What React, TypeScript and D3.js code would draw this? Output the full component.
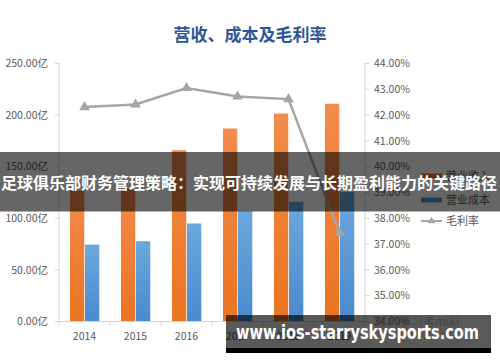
import React, { useEffect, useRef } from 'react';
import * as d3 from 'd3';

const years = ['2014', '2015', '2016', '2017', '2018', '2019'];
const revenue = [127, 129, 166, 187, 201.5, 211];
const cost = [74.5, 77.8, 95, 107, 116, 125.5];
const grossMargin = [42.31, 42.41, 43.05, 42.72, 42.62, 37.45];
const leftTicks = [0, 50, 100, 150, 200, 250];
const rightTicks = [34, 35, 36, 37, 38, 39, 40, 41, 42, 43, 44];
const seriesNames = ['营业收入', '营业成本', '毛利率'];

const W = 500;
const H = 362;

const App: React.FC = () => {
  const svgRef = useRef<SVGSVGElement>(null);

  useEffect(() => {
    document.body.style.margin = '0';
    const svg = d3.select(svgRef.current);
    svg.selectAll('*').remove();

    const left = 59, right = 365, top = 63.5, bottom = 321.5;
    const font = "'Noto Sans CJK SC', 'Noto Sans', sans-serif";
    const axisColor = '#d4d4d4';
    const textColor = '#595959';

    const defs = svg.append('defs');
    const grad = (id: string, c1: string, c2: string) => {
      const g = defs.append('linearGradient').attr('id', id)
        .attr('x1', 0).attr('y1', 0).attr('x2', 0).attr('y2', 1);
      g.append('stop').attr('offset', '0%').attr('stop-color', c1);
      g.append('stop').attr('offset', '100%').attr('stop-color', c2);
    };
    grad('gOrange', '#f28b4c', '#ea7420');
    grad('gBlue', '#6ca8de', '#4a8acd');

    const x0 = d3.scaleBand().domain(years).range([left, right]);
    const bw = x0.bandwidth();
    const x1 = d3.scaleBand().domain(['rev', 'cost'])
      .range([bw * 0.215, bw * 0.79]).paddingInner(0.05);
    const yL = d3.scaleLinear().domain([0, 250]).range([bottom, top]);
    const yR = d3.scaleLinear().domain([34, 44]).range([bottom, top]);

    // title
    svg.append('text')
      .attr('x', 250).attr('y', 41)
      .attr('text-anchor', 'middle')
      .attr('font-family', font).attr('font-weight', 'bold')
      .attr('font-size', 17).attr('fill', '#2f5597')
      .text('营收、成本及毛利率');

    // axes lines
    svg.append('line').attr('x1', left).attr('x2', left).attr('y1', top).attr('y2', bottom)
      .attr('stroke', axisColor);
    svg.append('line').attr('x1', right).attr('x2', right).attr('y1', top).attr('y2', bottom)
      .attr('stroke', axisColor);

    leftTicks.forEach(t => {
      svg.append('line').attr('x1', left - 4).attr('x2', left)
        .attr('y1', yL(t)).attr('y2', yL(t)).attr('stroke', axisColor);
      svg.append('text').attr('x', 48).attr('y', yL(t))
        .attr('dy', '0.35em').attr('text-anchor', 'end')
        .attr('font-family', font).attr('font-size', 10.5).attr('fill', textColor)
        .text(d3.format('.2f')(t) + '亿');
    });
    rightTicks.forEach(t => {
      svg.append('line').attr('x1', right).attr('x2', right + 4)
        .attr('y1', yR(t)).attr('y2', yR(t)).attr('stroke', axisColor);
      svg.append('text').attr('x', 374).attr('y', yR(t))
        .attr('dy', '0.35em').attr('text-anchor', 'start')
        .attr('font-family', font).attr('font-size', 10.5).attr('fill', textColor)
        .text(d3.format('.2f')(t) + '%');
    });

    // bars
    years.forEach((yr, i) => {
      const bx = x0(yr)!;
      svg.append('rect')
        .attr('x', bx + x1('rev')!).attr('width', x1.bandwidth())
        .attr('y', yL(revenue[i])).attr('height', bottom - yL(revenue[i]))
        .attr('fill', 'url(#gOrange)');
      svg.append('rect')
        .attr('x', bx + x1('cost')!).attr('width', x1.bandwidth())
        .attr('y', yL(cost[i])).attr('height', bottom - yL(cost[i]))
        .attr('fill', 'url(#gBlue)');
    });

    // x axis
    svg.append('line').attr('x1', left).attr('x2', right).attr('y1', bottom).attr('y2', bottom)
      .attr('stroke', axisColor);
    [...years.map(y => x0(y)!), right].forEach(px => {
      svg.append('line').attr('x1', px).attr('x2', px).attr('y1', bottom).attr('y2', bottom + 4)
        .attr('stroke', axisColor);
    });
    years.forEach(yr => {
      svg.append('text').attr('x', x0(yr)! + bw / 2).attr('y', 340)
        .attr('text-anchor', 'middle')
        .attr('font-family', font).attr('font-size', 10.5).attr('fill', textColor)
        .text(yr);
    });

    // margin line
    const line = d3.line<number>()
      .x((_, i) => x0(years[i])! + bw / 2)
      .y(d => yR(d));
    svg.append('path').datum(grossMargin).attr('d', line)
      .attr('fill', 'none').attr('stroke', '#a5a5a5').attr('stroke-width', 2.5);
    const tri = d3.symbol().type(d3.symbolTriangle).size(48);
    grossMargin.forEach((v, i) => {
      svg.append('path').attr('d', tri)
        .attr('transform', `translate(${x0(years[i])! + bw / 2},${yR(v)})`)
        .attr('fill', '#a5a5a5');
    });

    // legend
    const lg = [
      { name: seriesNames[0], color: '#ed7d31', y: 176, type: 'bar' },
      { name: seriesNames[1], color: '#5b9bd5', y: 200, type: 'bar' },
      { name: seriesNames[2], color: '#a5a5a5', y: 221, type: 'line' },
    ];
    lg.forEach(d => {
      if (d.type === 'bar') {
        svg.append('rect').attr('x', 421).attr('y', d.y - 2.5).attr('width', 21).attr('height', 5)
          .attr('fill', d.color);
      } else {
        svg.append('line').attr('x1', 421).attr('x2', 442).attr('y1', d.y).attr('y2', d.y)
          .attr('stroke', d.color).attr('stroke-width', 2);
        svg.append('path').attr('d', d3.symbol().type(d3.symbolTriangle).size(24))
          .attr('transform', `translate(431.5,${d.y})`).attr('fill', d.color);
      }
      svg.append('text').attr('x', 446).attr('y', d.y).attr('dy', '0.35em')
        .attr('font-family', font).attr('font-size', 11).attr('fill', textColor)
        .text(d.name);
    });

    // faint watermark
    svg.append('text').attr('x', 375).attr('y', 326)
      .attr('font-family', font).attr('font-size', 12).attr('fill', '#c8c8c8')
      .text('财务学习者miki');

    // banner overlay
    svg.append('rect').attr('x', 0).attr('y', 152).attr('width', W).attr('height', 59.5)
      .attr('fill', 'rgba(0,0,0,0.6)');
    svg.append('text').attr('x', 249).attr('y', 183).attr('dy', '0.35em')
      .attr('text-anchor', 'middle')
      .attr('font-family', font).attr('font-weight', 'bold').attr('font-size', 16)
      .attr('fill', '#ffffff')
      .text('足球俱乐部财务管理策略：实现可持续发展与长期盈利能力的关键路径');

    // bottom url box
    svg.append('rect').attr('x', 226).attr('y', 315).attr('width', 265).attr('height', 33)
      .attr('fill', 'rgba(0,0,0,0.65)');
    svg.append('rect').attr('x', 226).attr('y', 348).attr('width', 265).attr('height', 5)
      .attr('fill', '#000');
    svg.append('text').attr('x', 236).attr('y', 339)
      .attr('font-family', "'DejaVu Sans', sans-serif").attr('font-weight', 'bold')
      .attr('font-size', 19).attr('fill', '#ffffff')
      .attr('textLength', 243).attr('lengthAdjust', 'spacingAndGlyphs')
      .text('www.ios-starryskysports.com');
  }, []);

  return (
    <svg ref={svgRef} width={W} height={H}
      style={{ position: 'absolute', left: 0, top: 0, background: '#fff' }} />
  );
};

export default App;
